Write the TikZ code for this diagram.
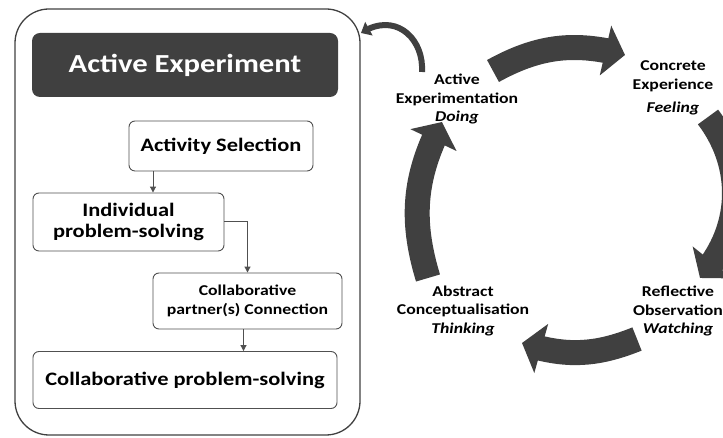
\documentclass[tikz,border=0pt]{standalone}
\usepackage{fontspec}
\setmainfont{Carlito}[FakeStretch=1.18]
\usepackage{tikz}
\usetikzlibrary{arrows.meta,bending}

\definecolor{darkgrey}{HTML}{404040}
\definecolor{linegrey}{HTML}{505050}

\begin{document}
\begin{tikzpicture}[x=1pt,y=1pt,
framenode/.style={rectangle, draw=darkgrey, line width=1.3pt, rounded corners=34pt, minimum width=345pt, minimum height=426pt},
headnode/.style={rectangle, fill=darkgrey, text=white, rounded corners=8pt, minimum width=306pt, minimum height=64pt, font=\fontsize{26}{29}\selectfont\bfseries},
stepnode/.style={rectangle, draw=linegrey, line width=0.9pt, rounded corners=6pt, align=center, font=\fontsize{19}{21}\selectfont\bfseries},
stagenode/.style={align=center, font=\fontsize{15}{18.5}\selectfont\bfseries},
flow/.style={draw=linegrey, line width=1pt, -{Triangle[width=6pt,length=6pt]}},
cyclearrow/.style={draw=darkgrey, line width=25pt, -{Triangle[width=50pt,length=20pt,flex]}},
linkarrow/.style={draw=darkgrey, line width=6pt, -{Triangle[width=15pt,length=9pt,flex]}},
]
\useasboundingbox (0,0) rectangle (723,438);

%Nodes
\node[framenode]  (frame)      at (187.5,216)  {};
\node[headnode]   (header)     at (185,373)    {Active Experiment};
\node[stepnode, minimum width=184pt, minimum height=50pt] (actsel)     at (221,292)   {Activity Selection};
\node[stepnode, minimum width=191pt, minimum height=58pt] (indiv)      at (128.5,216) {Individual\\problem-solving};
\node[stepnode, minimum width=189pt, minimum height=56pt, font=\fontsize{15}{19}\selectfont\bfseries] (collabpart) at (247.5,137) {Collaborative\\partner(s) Connection};
\node[stepnode, minimum width=304pt, minimum height=57pt] (collabps)   at (185,58)    {Collaborative problem-solving};

\node[stagenode]  (activeexp)  at (457,339)  {Active\\Experimentation\\\textit{Doing}};
\node[stagenode]  (concrete)   at (673,350)  {Concrete\\Experience\\[5pt]\textit{Feeling}};
\node[stagenode]  (abstract)   at (463,127)  {Abstract\\Conceptualisation\\\textit{Thinking}};
\node[stagenode]  (reflective) at (678,127)  {Reflective\\Observation\\\textit{Watching}};

\coordinate (ae1) at (493,367);
\coordinate (ce1) at (625,383);
\coordinate (ce2) at (708,321);
\coordinate (ro1) at (700,160);
\coordinate (ro2) at (637,99);
\coordinate (ac1) at (522,95);
\coordinate (ac2) at (428,160);
\coordinate (ae2) at (442,316);
\coordinate (aetail) at (422,366);
\coordinate (aetip)  at (361,405);

%Lines
\draw[flow] ([xshift=-68pt]actsel.south) -- ([xshift=-68pt]actsel.south |- indiv.north);
\draw[flow] (indiv.east) -| (collabpart.north);
\draw[flow] ([xshift=-4pt]collabpart.south) -- ([xshift=-4pt]collabpart.south |- collabps.north);

\draw[cyclearrow] (ae1) to[bend left=22] (ce1);
\draw[cyclearrow] (ce2) to[bend left=40] (ro1);
\draw[cyclearrow] (ro2) to[bend left=20] (ac1);
\draw[cyclearrow] (ac2) to[bend left=22] (ae2);
\draw[linkarrow] (aetail) .. controls (424,400) and (395,427) .. (aetip);
\end{tikzpicture}
\end{document}
